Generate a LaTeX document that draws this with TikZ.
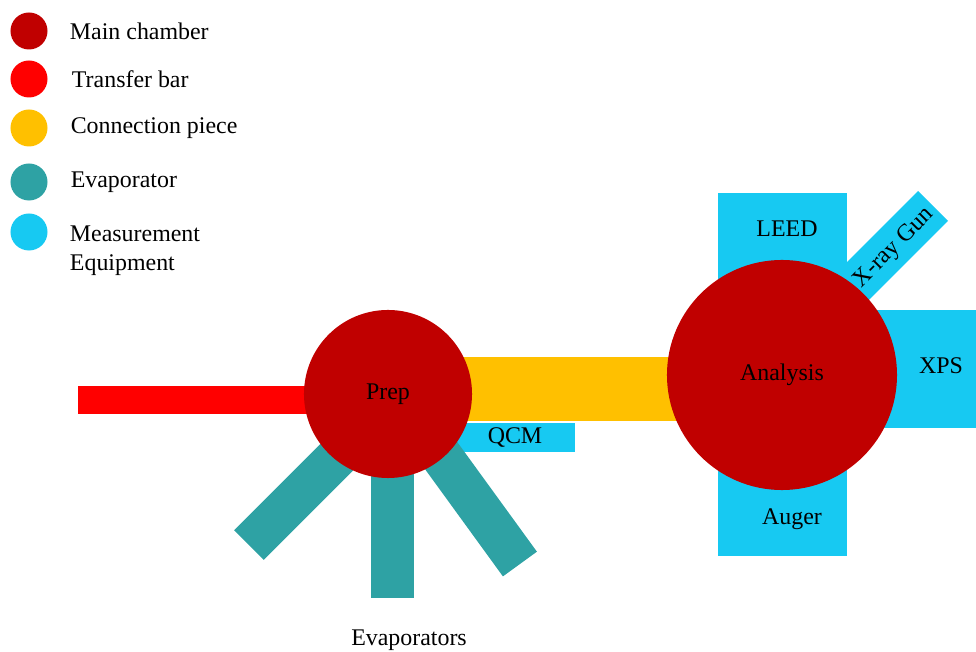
\documentclass[tikz,border=0pt]{standalone}
\usepackage{fontspec}
\setmainfont{Liberation Serif}
\usetikzlibrary{positioning}
\definecolor{chamberred}{HTML}{C00000}
\definecolor{transferred}{HTML}{FF0000}
\definecolor{connectyellow}{HTML}{FFC000}
\definecolor{evapteal}{HTML}{2EA2A4}
\definecolor{measblue}{HTML}{17C9F2}
\tikzset{
  legdot/.style={circle,inner sep=0pt,minimum size=0.925cm},
  part/.style={rectangle,inner sep=0pt},
  evap/.style={part,fill=evapteal,minimum width=4.5cm,minimum height=1.05cm},
  meas/.style={part,fill=measblue},
  chamber/.style={circle,inner sep=0pt,fill=chamberred},
}

\begin{document}
\begin{tikzpicture}[x=0.025cm,y=0.025cm,font=\fontsize{17}{20.6}\selectfont]
      \useasboundingbox (0,0) rectangle (976,652);

      % legend
      \node[legdot,fill=chamberred] (kMain) at (29,621) {};
      \node[legdot,fill=transferred] (kTransfer) at (29,573) {};
      \node[legdot,fill=connectyellow] (kConnect) at (29,524) {};
      \node[legdot,fill=evapteal] (kEvap) at (29,470) {};
      \node[legdot,fill=measblue] (kMeas) at (29,420) {};
      \node[right=0.43cm of kMain] (tMain) {Main chamber};
      \node[right=0.48cm of kTransfer] (tTransfer) {Transfer bar};
      \node[right=0.45cm of kConnect] (tConnect) {Connection piece};
      \node[right=0.45cm of kEvap] (tEvap) {Evaporator};
      \node[right=0.43cm of kMeas,yshift=-0.46cm,align=left] (tMeas) {Measurement\\Equipment};

      % bars behind the chambers
      \node[part,fill=transferred,minimum width=6.05cm,minimum height=0.7cm] (transfer) at (199,252) {};
      \node[part,fill=connectyellow,minimum width=5.75cm,minimum height=1.6cm] (connect) at (570,263) {};
      \node[meas,minimum width=3cm,minimum height=0.725cm] (qcm) at (515,214.5) {QCM};
      \node[evap,rotate=45] (evapL) at (312.6,170.6) {};
      \node[evap,minimum width=1.075cm,minimum height=3.65cm] (evapM) at (392.5,127) {};
      \node[evap,rotate=-54] (evapR) at (467,160.8) {};
      \node[meas,minimum width=3.225cm,minimum height=3.225cm] (leed) at (782.5,394.5) {};
      \node[meas,minimum width=3.225cm,minimum height=3.35cm] (auger) at (782.5,163) {};
      \node[meas,minimum width=2.9cm,minimum height=2.95cm] (xps) at (918,283) {};
      \node[meas,rotate=45,minimum width=4.5cm,minimum height=1.06cm] (xray) at (869.4,382.4) {};

      % chambers
      \node[chamber,minimum size=4.2cm] (prep) at (388,258) {Prep};
      \node[chamber,minimum size=5.75cm] (analysis) at (782,277) {Analysis};

      % labels
      \node (leedtxt) at (787,423) {LEED};
      \node (augertxt) at (792,133) {Auger};
      \node (xpstxt) at (941,286) {XPS};
      \node[rotate=45] (xraytxt) at (894,404) {X-ray Gun};
      \node (evaptxt) at (409,12) {Evaporators};
    \end{tikzpicture}
\end{document}
